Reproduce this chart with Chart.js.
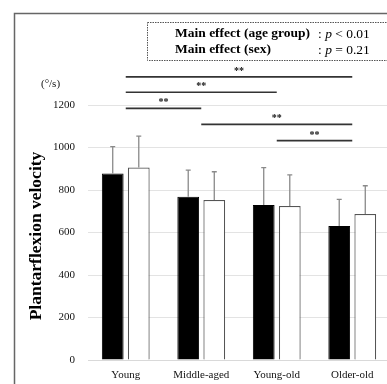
<!DOCTYPE html>
<html>
<head>
<meta charset="utf-8">
<script src="https://cdn.jsdelivr.net/npm/chart.js@4.4.1/dist/chart.umd.min.js"></script>
<style>
html,body{margin:0;padding:0;background:#fff;overflow:hidden;}
#wrap{position:absolute;left:0;top:0;width:400px;height:400px;}
</style>
</head>
<body>
<div id="wrap"><canvas id="c" width="400" height="400"></canvas></div>
<script>
const categories = ['Young', 'Middle-aged', 'Young-old', 'Older-old'];
const maleValues = [878, 768, 729, 631];
const femaleValues = [906, 753, 725, 687];
const maleSD = [126, 126, 176, 125];
const femaleSD = [148, 133, 146, 133];
const yTicks = [0, 200, 400, 600, 800, 1000, 1200];
const sigPairs = [[0, 3], [0, 2], [0, 1], [1, 3], [2, 3]];
const sigLevels = [1332, 1260, 1184, 1109, 1032];
const sigLabels = ['**', '**', '**', '**', '**'];
const yTitle = 'Plantarflexion velocity';
const yUnit = '(\u00B0/s)';
const effectNames = ['Main effect (age group)', 'Main effect (sex)'];
const effectP = ['< 0.01', '= 0.21'];

const SERIF = '"Liberation Serif", "Times New Roman", serif';

const decorPlugin = {
  id: 'decor',
  afterDatasetsDraw(chart) {
    const ctx = chart.ctx;
    const y = chart.scales.y;
    const sets = [[maleValues, maleSD], [femaleValues, femaleSD]];
    ctx.save();
    ctx.strokeStyle = '#8a8a8a';
    ctx.lineWidth = 1.3;
    sets.forEach((s, di) => {
      const meta = chart.getDatasetMeta(di);
      meta.data.forEach((bar, i) => {
        const cx = bar.x;
        const y0 = y.getPixelForValue(s[0][i]);
        const y1 = y.getPixelForValue(s[0][i] + s[1][i]);
        ctx.beginPath();
        ctx.moveTo(cx, y0);
        ctx.lineTo(cx, y1);
        ctx.moveTo(cx - 2.5, y1);
        ctx.lineTo(cx + 2.5, y1);
        ctx.stroke();
      });
    });
    ctx.restore();
  },
  afterDraw(chart) {
    const ctx = chart.ctx;
    const x = chart.scales.x, y = chart.scales.y;
    ctx.save();
    ctx.strokeStyle = '#666';
    ctx.lineWidth = 1.5;
    ctx.strokeRect(14.5, 13.5, 500, 500);
    ctx.setLineDash([1.5, 1]);
    ctx.strokeStyle = '#555';
    ctx.lineWidth = 1;
    ctx.strokeRect(147.5, 22.5, 300, 38);
    ctx.setLineDash([]);
    ctx.fillStyle = '#000';
    ctx.textBaseline = 'middle';
    ctx.textAlign = 'left';
    const rows = [34, 50];
    effectNames.forEach((n, i) => {
      ctx.font = 'bold 13.5px ' + SERIF;
      ctx.fillText(n, 175, rows[i]);
      let cx = 318;
      ctx.font = '13.5px ' + SERIF;
      ctx.fillText(': ', cx, rows[i]);
      cx += ctx.measureText(': ').width;
      ctx.font = 'italic 13.5px ' + SERIF;
      ctx.fillText('p', cx, rows[i]);
      cx += ctx.measureText('p ').width;
      ctx.font = '13.5px ' + SERIF;
      ctx.fillText(effectP[i], cx, rows[i]);
    });
    ctx.font = '11px ' + SERIF;
    ctx.fillStyle = '#111';
    ctx.fillText(yUnit, 41, 84);
    ctx.save();
    ctx.translate(36, 236);
    ctx.rotate(-Math.PI / 2);
    ctx.textAlign = 'center';
    ctx.font = 'bold 17.5px ' + SERIF;
    ctx.fillStyle = '#000';
    ctx.fillText(yTitle, 0, 0);
    ctx.restore();
    ctx.strokeStyle = '#333';
    ctx.lineWidth = 1.7;
    ctx.fillStyle = '#111';
    ctx.textAlign = 'center';
    ctx.font = 'bold 10px ' + SERIF;
    sigPairs.forEach((p, i) => {
      const x0 = x.getPixelForValue(p[0]);
      const x1 = x.getPixelForValue(p[1]);
      const yy = y.getPixelForValue(sigLevels[i]);
      ctx.beginPath();
      ctx.moveTo(x0, yy);
      ctx.lineTo(x1, yy);
      ctx.stroke();
      ctx.fillText(sigLabels[i], (x0 + x1) / 2, yy - 5.5);
    });
    ctx.restore();
  }
};

new Chart(document.getElementById('c'), {
  type: 'bar',
  data: {
    labels: categories,
    datasets: [
      { label: 'Male', data: maleValues, backgroundColor: '#000', borderColor: '#000', borderWidth: 1 },
      { label: 'Female', data: femaleValues, backgroundColor: '#fff', borderColor: '#555', borderWidth: 1.2 }
    ]
  },
  options: {
    responsive: false,
    animation: false,
    devicePixelRatio: 1,
    categoryPercentage: 0.69,
    barPercentage: 0.835,
    layout: { padding: { left: 0, top: 105, right: 10, bottom: 0 } },
    plugins: { legend: { display: false }, tooltip: { enabled: false }, title: { display: false } },
    scales: {
      x: {
        grid: { display: false, drawTicks: false },
        border: { display: true, color: '#d9d9d9', width: 1 },
        ticks: { color: '#111', font: { family: SERIF, size: 11 }, padding: 9, maxRotation: 0 },
        afterFit(s) { s.height = 40; }
      },
      y: {
        min: 0, max: 1200,
        afterBuildTicks(s) { s.ticks = yTicks.map(v => ({ value: v })); },
        grid: { color: '#e3e3e3', drawTicks: false },
        border: { display: false },
        ticks: { color: '#111', font: { family: SERIF, size: 11 }, padding: 13, callback: v => String(v) },
        afterFit(s) { s.width = 88; }
      }
    }
  },
  plugins: [decorPlugin]
});
</script>
</body>
</html>
